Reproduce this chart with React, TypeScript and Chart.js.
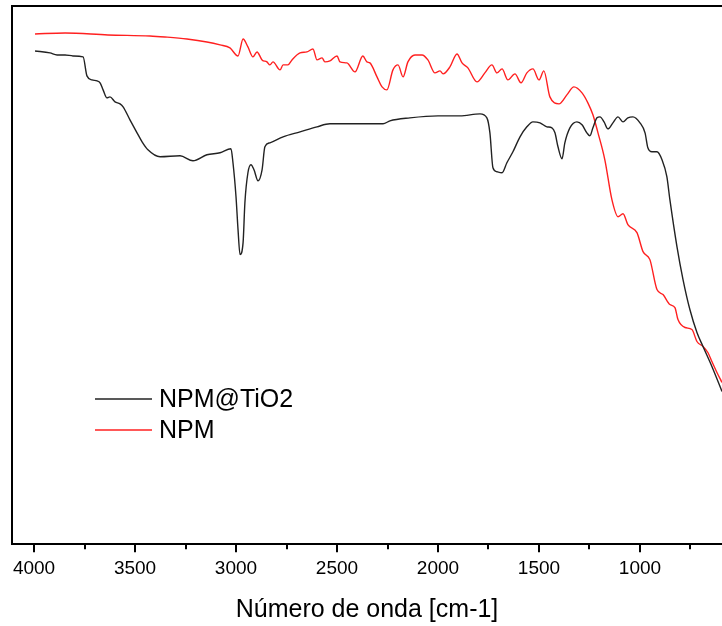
import React, { useEffect, useRef } from "react";
import { Chart, registerables } from "chart.js";

Chart.register(...registerables);

// NPM@TiO2 (black) – wavenumber [cm-1] and transmittance (a.u.)
const npmTiO2Wavenumber = [
  3995, 3921, 3886, 3846, 3807, 3757, 3738, 3713, 3688, 3673, 3658, 3639, 3624, 3599, 3574, 3559,
  3525, 3490, 3465, 3436, 3376, 3277, 3213, 3144, 3079, 3025, 3015, 3000, 2990, 2980, 2965, 2956,
  2941, 2926, 2911, 2891, 2871, 2857, 2832, 2767, 2683, 2599, 2535, 2386, 2272, 2238, 2139, 2000,
  1891, 1792, 1758, 1743, 1728, 1708, 1683, 1659, 1629, 1594, 1560, 1530, 1495, 1461, 1436, 1421,
  1406, 1386, 1372, 1347, 1312, 1287, 1263, 1248, 1233, 1213, 1198, 1178, 1159, 1134, 1109, 1084,
  1060, 1035, 1000, 975, 961, 941, 916, 891, 867, 852, 817, 787, 753, 718, 688, 644, 594,
];
const npmTiO2Transmittance = [
  98.8, 98.4, 98.0, 98.0, 97.8, 97.6, 93.8, 93.0, 92.8, 92.4, 91.0, 89.4, 89.6, 88.6, 88.2, 87.6,
  85.0, 82.4, 80.6, 79.0, 77.6, 77.8, 76.8, 78.0, 78.4, 79.2, 76.4, 69.6, 63.0, 58.0, 60.4, 68.4,
  74.4, 76.0, 75.0, 72.8, 75.0, 79.6, 80.4, 81.6, 82.6, 83.6, 84.2, 84.2, 84.2, 84.8, 85.4, 85.8,
  85.8, 86.2, 85.4, 82.4, 75.4, 74.6, 74.4, 76.4, 78.6, 81.6, 83.6, 84.6, 84.4, 83.6, 83.4, 82.4,
  79.6, 77.2, 80.4, 83.4, 84.6, 84.0, 82.4, 81.8, 83.4, 85.4, 85.6, 84.6, 83.2, 84.4, 85.6, 84.6,
  85.4, 85.6, 84.4, 82.4, 79.4, 78.6, 78.6, 77.0, 73.6, 69.0, 59.6, 53.0, 47.0, 42.4, 39.6, 35.6, 30.6,
];

// NPM (red)
const npmWavenumber = [
  3995, 3846, 3634, 3426, 3352, 3243, 3144, 3079, 3030, 2990, 2965, 2941, 2916, 2896, 2871, 2847,
  2832, 2817, 2782, 2767, 2743, 2723, 2683, 2649, 2619, 2599, 2574, 2560, 2535, 2500, 2485, 2451,
  2411, 2372, 2352, 2337, 2302, 2277, 2253, 2223, 2198, 2173, 2149, 2114, 2079, 2050, 2015, 1990,
  1975, 1941, 1906, 1881, 1852, 1807, 1768, 1733, 1708, 1683, 1654, 1619, 1589, 1560, 1530, 1500,
  1476, 1446, 1401, 1362, 1327, 1287, 1258, 1233, 1208, 1174, 1139, 1109, 1084, 1060, 1015, 985,
  951, 916, 886, 852, 827, 812, 777, 743, 718, 688, 664, 644, 619, 594,
];
const npmTransmittance = [
  102.2, 102.4, 102.0, 101.8, 101.6, 101.2, 100.6, 100.0, 99.4, 97.8, 101.2, 99.6, 97.6, 98.6, 97.0, 96.6,
  96.0, 96.6, 95.0, 96.0, 96.0, 97.0, 98.4, 98.6, 99.2, 97.0, 97.4, 96.6, 96.8, 97.8, 96.6, 96.4,
  94.6, 97.8, 96.6, 96.4, 93.6, 91.6, 91.0, 95.0, 96.0, 93.6, 96.6, 98.0, 98.0, 97.0, 94.4, 94.8,
  94.2, 95.6, 98.2, 96.4, 95.4, 92.6, 94.4, 96.0, 94.4, 95.2, 93.0, 94.2, 92.4, 94.4, 95.2, 93.0,
  94.8, 89.6, 88.2, 90.0, 91.6, 90.4, 88.4, 86.0, 82.4, 77.0, 69.0, 65.6, 66.2, 64.0, 62.4, 58.6,
  57.0, 51.0, 50.0, 48.0, 47.4, 45.0, 43.4, 43.0, 40.6, 39.6, 38.4, 36.6, 34.4, 32.4,
];

const majorTicks = [4000, 3500, 3000, 2500, 2000, 1500, 1000];
const minorTicks = [3750, 3250, 2750, 2250, 1750, 1250, 750];
const seriesLabels = ["NPM@TiO2", "NPM"];
const seriesColors = ["#222222", "#ff2020"];
const axisTitle = "Número de onda [cm-1]";

const FONT = '"Liberation Sans", Arial, sans-serif';

export default function App() {
  const ref = useRef<HTMLCanvasElement>(null);

  useEffect(() => {
    if (!ref.current) return;

    const framePlugin = {
      id: "frameAndLegend",
      afterDraw(chart: any) {
        const { ctx, chartArea } = chart;
        const xs = chart.scales.x;
        ctx.save();
        ctx.strokeStyle = "#000";
        ctx.lineWidth = 2;
        // top border of the frame
        ctx.beginPath();
        ctx.moveTo(chartArea.left - 1, chartArea.top);
        ctx.lineTo(chartArea.right, chartArea.top);
        ctx.stroke();
        // minor ticks
        for (const v of minorTicks) {
          const px = Math.round(xs.getPixelForValue(v));
          ctx.beginPath();
          ctx.moveTo(px, chartArea.bottom);
          ctx.lineTo(px, chartArea.bottom + 5);
          ctx.stroke();
        }
        // legend
        const lx = chartArea.left + 83;
        const ly0 = chartArea.top + 393;
        const gap = 31;
        chart.data.datasets.forEach((ds: any, i: number) => {
          const y = ly0 + i * gap;
          ctx.strokeStyle = ds.borderColor;
          ctx.lineWidth = 1.3;
          ctx.beginPath();
          ctx.moveTo(lx, y);
          ctx.lineTo(lx + 57, y);
          ctx.stroke();
          ctx.fillStyle = "#000";
          ctx.font = `25px ${FONT}`;
          ctx.textBaseline = "middle";
          ctx.textAlign = "left";
          ctx.fillText(ds.label, lx + 64, y + 1);
        });
        ctx.restore();
      },
    };

    const chart = new Chart(ref.current, {
      type: "line",
      data: {
        datasets: [
          {
            label: seriesLabels[0],
            data: npmTiO2Wavenumber.map((x, i) => ({ x, y: npmTiO2Transmittance[i] })),
            borderColor: seriesColors[0],
            borderWidth: 1.4,
            pointRadius: 0,
            cubicInterpolationMode: "monotone",
          },
          {
            label: seriesLabels[1],
            data: npmWavenumber.map((x, i) => ({ x, y: npmTransmittance[i] })),
            borderColor: seriesColors[1],
            borderWidth: 1.4,
            pointRadius: 0,
            cubicInterpolationMode: "monotone",
          },
        ],
      },
      options: {
        responsive: false,
        animation: false,
        devicePixelRatio: 1,
        layout: { padding: { left: 12, top: 6, right: 0, bottom: 0 } },
        plugins: {
          legend: { display: false },
          tooltip: { enabled: false },
        },
        scales: {
          x: {
            type: "linear",
            reverse: true,
            min: 594,
            max: 4109,
            afterBuildTicks: (scale: any) => {
              scale.ticks = majorTicks.map((v) => ({ value: v }));
            },
            grid: {
              display: true,
              drawOnChartArea: false,
              drawTicks: true,
              tickLength: 8,
              lineWidth: 2,
              color: "#000",
            },
            border: { display: true, color: "#000", width: 2 },
            ticks: {
              autoSkip: false,
              maxRotation: 0,
              padding: 5,
              color: "#000",
              font: { family: FONT, size: 19 },
              callback: (v: any) => String(v),
            },
            title: {
              display: true,
              text: axisTitle,
              color: "#000",
              font: { family: FONT, size: 25 },
              padding: { top: 10, bottom: 1 },
            },
          },
          y: {
            min: 0,
            max: 107.8,
            ticks: { display: false },
            grid: { display: false, drawTicks: false, tickLength: 0 },
            border: { display: true, color: "#000", width: 2 },
          },
        },
      },
      plugins: [framePlugin],
    } as any);

    return () => chart.destroy();
  }, []);

  return (
    <div style={{ position: "fixed", left: 0, top: 0, width: 722, height: 626, background: "#fff" }}>
      <canvas ref={ref} width={722} height={626} style={{ display: "block" }} />
    </div>
  );
}
